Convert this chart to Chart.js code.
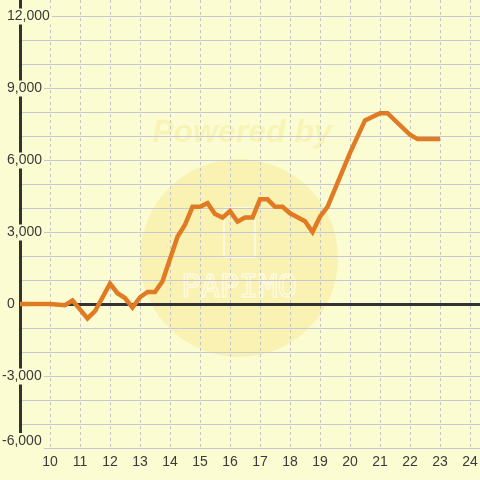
<!DOCTYPE html>
<html><head><meta charset="utf-8">
<script src="https://cdn.jsdelivr.net/npm/chart.js@4"></script>
<style>html,body{margin:0;padding:0;background:#fcfcd2;}canvas{display:block}</style>
</head><body>
<canvas id="c" width="480" height="480"></canvas>
<script>
// Data (x = hour, y = value)
const hours  = [9, 10, 10.5, 10.75, 11.25, 11.5, 12, 12.25, 12.5, 12.75, 13, 13.25, 13.5, 13.75, 14.25, 14.5, 14.75, 15, 15.25, 15.5, 15.75, 16, 16.25, 16.5, 16.75, 17, 17.25, 17.5, 17.75, 18, 18.5, 18.75, 19, 19.25, 20, 20.5, 21, 21.25, 22, 22.25, 23];
const values = [0, 0, -50, 150, -600, -300, 850, 450, 250, -150, 280, 500, 500, 950, 2800, 3300, 4050, 4050, 4200, 3750, 3600, 3870, 3430, 3600, 3600, 4360, 4360, 4050, 4050, 3780, 3450, 3000, 3640, 4050, 6300, 7650, 7950, 7950, 7050, 6870, 6870];
const xTickLabels = [10, 11, 12, 13, 14, 15, 16, 17, 18, 19, 20, 21, 22, 23, 24];
const yTickLabels = [-6000, -3000, 0, 3000, 6000, 9000, 12000];
const yGridValues = [-6000, -5000, -4000, -3000, -2000, -1000, 0, 1000, 2000, 3000, 4000, 5000, 6000, 7000, 8000, 9000, 10000, 11000, 12000];
const xGridValues = [9, 10, 11, 12, 13, 14, 15, 16, 17, 18, 19, 20, 21, 22, 23, 24];

const BG = '#fcfcd2';
const LINE = '#e07b24';
const TXT = '#3a3a3a';
const FONT = '14px "Liberation Sans", Arial, sans-serif';

const fmt = v => (v < 0 ? '-' : '') + Math.abs(v).toString().replace(/\B(?=(\d{3})+(?!\d))/g, ',');

const watermark = {
  id: 'watermark',
  beforeDraw(chart) {
    const c = chart.ctx;
    c.save();
    c.fillStyle = BG;
    c.fillRect(0, 0, chart.width, chart.height);
    c.beginPath();
    c.arc(239, 258, 99, 0, Math.PI * 2);
    c.fillStyle = 'rgba(247,226,125,0.38)';
    c.fill();
    c.font = 'italic bold 32px "Liberation Sans", Arial, sans-serif';
    c.fillStyle = 'rgba(245,236,150,0.45)';
    c.textAlign = 'center';
    c.textBaseline = 'middle';
    c.fillText('Powered by', 242, 133, 188);
    c.strokeStyle = 'rgba(255,255,255,0.55)';
    c.lineWidth = 2;
    c.strokeRect(224, 208, 31, 49);
    c.font = '32px "DejaVu Sans Mono", monospace';
    c.strokeStyle = 'rgba(255,255,255,0.6)';
    c.lineWidth = 1.5;
    c.strokeText('PAPIMO', 239, 289, 134);
    c.restore();
  }
};

// y-axis tick labels straddle the axis line, drawn from the y scale's own ticks
const yLabels = {
  id: 'yLabels',
  beforeDatasetsDraw(chart) {
    const c = chart.ctx;
    const s = chart.scales.y;
    const area = chart.chartArea;
    c.save();
    c.font = FONT;
    c.textAlign = 'left';
    c.textBaseline = 'middle';
    yTickLabels.forEach(v => {
      const text = fmt(v);
      const w = c.measureText(text).width;
      const x = v < 0 ? 2 : 7;
      let y = s.getPixelForValue(v) + 0.5;
      y = Math.max(area.top + 9, Math.min(area.bottom - 7, y));
      c.fillStyle = BG;
      c.fillRect(x - 2, y - 8, w + 4, 16);
      c.fillStyle = TXT;
      c.fillText(text, x, y);
    });
    c.restore();
  }
};

new Chart(document.getElementById('c'), {
  type: 'line',
  data: {
    datasets: [{
      data: hours.map((h, i) => ({x: h, y: values[i]})),
      borderColor: LINE,
      borderWidth: 4.5,
      pointRadius: 0,
      tension: 0,
      fill: false
    }]
  },
  options: {
    responsive: false,
    animation: false,
    events: [],
    layout: {padding: {left: 7, top: 0, right: 0, bottom: 0}},
    plugins: {legend: {display: false}, tooltip: {enabled: false}},
    scales: {
      x: {
        type: 'linear',
        min: 9,
        max: 24.333,
        afterBuildTicks(s) { s.ticks = xGridValues.map(v => ({value: v})); },
        afterFit(s) { s.height = 32; s.paddingLeft = 0; s.paddingRight = 0; },
        ticks: {
          autoSkip: false,
          maxRotation: 0,
          minRotation: 0,
          padding: 6,
          color: TXT,
          font: {family: '"Liberation Sans", Arial, sans-serif', size: 14},
          callback: v => xTickLabels.includes(v) ? String(v) : ''
        },
        grid: {color: '#c4c4c8', lineWidth: 1, drawTicks: false},
        border: {display: false, dash: [3, 3]}
      },
      y: {
        type: 'linear',
        min: -6000,
        max: 12666.67,
        afterBuildTicks(s) { s.ticks = yGridValues.map(v => ({value: v})); },
        afterFit(s) { s.width = 13; s.paddingTop = 0; s.paddingBottom = 0; },
        ticks: {display: false},
        grid: {
          drawTicks: false,
          color: ctx => ctx.tick && ctx.tick.value === 0 ? '#333333' : '#c8c8d2',
          lineWidth: ctx => ctx.tick && ctx.tick.value === 0 ? 3 : 1
        },
        border: {display: true, color: '#333333', width: 3}
      }
    }
  },
  plugins: [watermark, yLabels]
});
</script>
</body></html>
